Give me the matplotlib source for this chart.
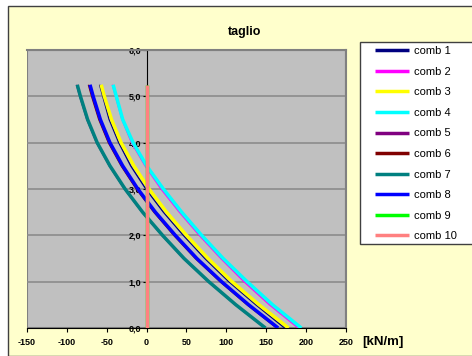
import matplotlib.pyplot as plt
from matplotlib.patches import Rectangle

plt.rcParams['font.family'] = ['Liberation Sans', 'DejaVu Sans']

# depth levels [m]
z = [0.0, 0.5, 1.0, 1.5, 2.0, 2.5, 3.0, 3.5, 4.0, 4.5, 5.0, 5.25]

# shear values [kN/m]
comb1 = [173, 137, 103, 73, 46, 21, -1, -20, -35, -47, -55, -59]
comb2 = [190, 154, 122, 93, 66, 41, 18, -2, -19, -31, -39, -43]
comb3 = [178, 141, 107, 77, 50, 25, 3, -16, -32, -44, -53, -57]
comb4 = [194, 158, 126, 96, 69, 44, 21, 0, -17, -30, -38, -42]
comb5 = [148, 111, 77, 46, 19, -6, -28, -47, -63, -75, -84, -88]
comb6 = [163, 126, 92, 61, 34, 9, -13, -32, -48, -60, -69, -73]
comb7 = [149, 112, 78, 47, 20, -5, -27, -46, -62, -74, -83, -87]
comb8 = [165, 128, 94, 63, 36, 11, -11, -30, -46, -58, -67, -71]
comb9 = [0, 0, 0, 0, 0, 0, 0, 0, 0, 0, 0, 0]
comb10 = [0, 0, 0, 0, 0, 0, 0, 0, 0, 0, 0, 0]

series = [comb1, comb2, comb3, comb4, comb5, comb6, comb7, comb8, comb9, comb10]
labels = ["comb %d" % i for i in range(1, 11)]
colors = ["#000080", "#FF00FF", "#FFFF00", "#00FFFF", "#800080",
          "#800000", "#008080", "#0000FF", "#00FF00", "#FF8080"]
widths = [1.0, 1.0, 2.5, 2.5, 1.0, 1.0, 2.5, 2.5, 2.5, 2.5]

x_ticks = [-150, -100, -50, 0, 50, 100, 150, 200, 250]
y_ticks = [0, 1, 2, 3, 4, 5, 6]

fig = plt.figure(figsize=(4.72, 3.56), dpi=100)
fig.patch.set_facecolor("white")
bg = Rectangle((8 / 472, 0), 1, 1 - 6 / 356, transform=fig.transFigure,
               facecolor="#FFFFCC", edgecolor="#404040", linewidth=1.0, zorder=-10)
fig.patches.append(bg)
# legend box
legbox = Rectangle((360 / 472, 1 - 244 / 356), 0.5, 202 / 356, transform=fig.transFigure,
                   facecolor="white", edgecolor="#404040", linewidth=1.0, zorder=-5)
fig.patches.append(legbox)

ax = fig.add_axes([27 / 472, 28 / 356, 319 / 472, 278 / 356])
ax.set_facecolor("#C0C0C0")
ax.spines['left'].set_position(('data', 0))

for yv in y_ticks[1:]:
    ax.axhline(yv, color="#8C8C8C", linewidth=1.2, zorder=1)

# order of draw follows series order (later on top)
for vals, lab, col, lw in zip(series, labels, colors, widths):
    ax.plot(vals, z, color=col, linewidth=lw, label=lab, zorder=3,
            solid_capstyle="butt")

ax.set_xlim(-150, 250)
ax.set_ylim(0, 6)
ax.set_xticks(x_ticks)
ax.set_yticks(y_ticks)
ax.set_xticklabels([str(v) for v in x_ticks], fontsize=6.5, fontweight="bold")
ax.set_yticklabels(["%d,0" % v for v in y_ticks], fontsize=6.5, fontweight="bold")

ax.spines['left'].set_color("black")
ax.spines['left'].set_zorder(2)
ax.spines['bottom'].set_color("black")
ax.spines['top'].set_color("#808080")
ax.spines['right'].set_color("#808080")
ax.spines['top'].set_linewidth(1.5)
ax.spines['right'].set_linewidth(1.5)
ax.add_patch(Rectangle((0, 0), 1, 1, transform=ax.transAxes, fill=False,
                       edgecolor="#808080", linewidth=1.5, zorder=0.5))
ax.tick_params(axis='y', length=3, width=0.8, pad=1)
ax.tick_params(axis='x', length=3, width=0.8, pad=4)

fig.text(245 / 472, 1 - 32 / 356, "taglio", fontsize=9, fontweight="bold",
         ha="center", va="center")
fig.text(383 / 472, 1 - 342 / 356, "[kN/m]", fontsize=9.5, fontweight="bold",
         ha="center", va="center")

leg = ax.legend(loc="upper left", bbox_to_anchor=(373 / 472, 1 - 44 / 356),
                bbox_transform=fig.transFigure, fontsize=8, frameon=False,
                handlelength=3.0, labelspacing=0.95, borderpad=0.2,
                handletextpad=0.5, borderaxespad=0)
for h in leg.get_lines():
    h.set_linewidth(2.5)

fig.savefig("out.png", dpi=100)
